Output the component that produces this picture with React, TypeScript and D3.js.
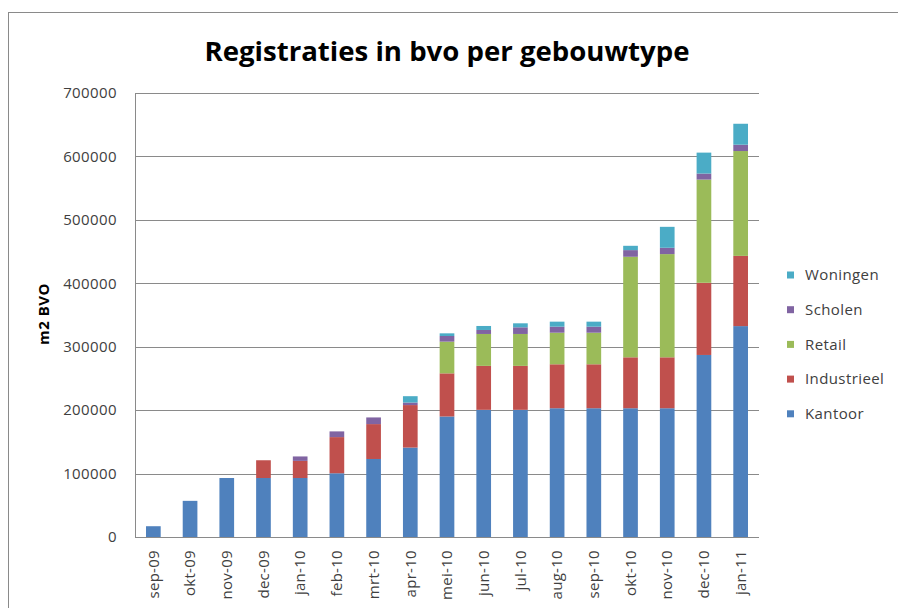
import React from "react";
import * as d3 from "d3";

const categories = ["sep-09","okt-09","nov-09","dec-09","jan-10","feb-10","mrt-10","apr-10","mei-10","jun-10","jul-10","aug-10","sep-10","okt-10","nov-10","dec-10","jan-11"];
const kantoor =    [17000, 57000, 93000, 93000, 93000, 100500, 123000, 141000, 190000, 200500, 200500, 203000, 203000, 203000, 203000, 287000, 332500];
const industrieel = [0, 0, 0, 28000, 27000, 57000, 55000, 67000, 68000, 69300, 69300, 69300, 69300, 80300, 80300, 113800, 110700];
const retail =      [0, 0, 0, 0, 0, 0, 0, 0, 50000, 50300, 50300, 49800, 49800, 158500, 162700, 162700, 165300];
const scholen =     [0, 0, 0, 0, 7000, 9000, 10500, 4000, 8900, 6300, 10500, 9500, 9500, 10500, 10000, 9500, 10000];
const woningen =    [0, 0, 0, 0, 0, 0, 0, 10000, 4200, 6300, 6300, 7900, 7900, 6800, 33000, 33000, 33000];
const yTicks = [0, 100000, 200000, 300000, 400000, 500000, 600000, 700000];

const seriesNames = ["Kantoor", "Industrieel", "Retail", "Scholen", "Woningen"];
const seriesValues = [kantoor, industrieel, retail, scholen, woningen];
const colors = ["#4F81BD", "#C0504D", "#9BBB59", "#8064A2", "#4BACC6"];

const W = 898, H = 608;
const plot = { left: 135, right: 759, top: 93, bottom: 537 };
const font = "'Open Sans', sans-serif";
const textColor = "#404040";
const gridColor = "#8a8a8a";

export default function App() {
  const x = d3.scaleBand<string>().domain(categories).range([plot.left, plot.right]).paddingInner(0.6).paddingOuter(0.3);
  const y = d3.scaleLinear().domain([0, 700000]).range([plot.bottom, plot.top]);

  const rows = categories.map((c, i) => {
    const r: any = { cat: c };
    seriesNames.forEach((s, j) => (r[s] = seriesValues[j][i]));
    return r;
  });
  const stacked = d3.stack<any>().keys(seriesNames)(rows);

  const legendOrder = [4, 3, 2, 1, 0];
  const legendY0 = 275, legendStep = 34.7;

  return (
    <svg width={W} height={H} style={{ position: "absolute", left: 0, top: 0, background: "#fff" }}>
      <rect x={8.5} y={12.5} width={1000} height={700} fill="#fff" stroke="#8a8a8a" strokeWidth={1} />
      <text x={447} y={61} textAnchor="middle" fontFamily={font} fontWeight={700} fontSize={27} fill="#000" textLength={485} lengthAdjust="spacingAndGlyphs">
        Registraties in bvo per gebouwtype
      </text>
      {yTicks.map((t) => (
        <g key={t}>
          <line x1={plot.left} x2={plot.right} y1={Math.round(y(t)) + 0.5} y2={Math.round(y(t)) + 0.5} stroke={gridColor} strokeWidth={1} />
          <text x={117} y={y(t)} dy="0.35em" textAnchor="end" fontFamily={font} fontSize={15} letterSpacing={0.4} fill={textColor}>
            {t}
          </text>
        </g>
      ))}
      <line x1={plot.left + 0.5} x2={plot.left + 0.5} y1={plot.top} y2={plot.bottom} stroke={gridColor} strokeWidth={1} />
      {stacked.map((layer, j) => (
        <g key={seriesNames[j]} fill={colors[j]}>
          {layer.map((d, i) => {
            const h = y(d[0]) - y(d[1]);
            if (h <= 0) return null;
            return <rect key={i} x={x(categories[i])!} width={x.bandwidth()} y={y(d[1])} height={h} />;
          })}
        </g>
      ))}
      <line x1={plot.left} x2={plot.right} y1={plot.bottom + 0.5} y2={plot.bottom + 0.5} stroke={gridColor} strokeWidth={1} />
      {categories.map((c) => (
        <text key={c} transform={`translate(${x(c)! + x.bandwidth() / 2},550) rotate(-90)`} dy="0.35em" textAnchor="end" fontFamily={font} fontSize={15} letterSpacing={0.3} fill={textColor}>
          {c}
        </text>
      ))}
      <text transform={`translate(44,314) rotate(-90)`} dy="0.35em" textAnchor="middle" fontFamily={font} fontWeight={700} fontSize={15} letterSpacing={0.5} fill="#000">
        m2 BVO
      </text>
      {legendOrder.map((j, k) => (
        <g key={seriesNames[j]} transform={`translate(0,${legendY0 + k * legendStep})`}>
          <rect x={787} y={-3.5} width={7} height={7} fill={colors[j]} />
          <text x={805} y={0} dy="0.35em" fontFamily={font} fontSize={15} letterSpacing={0.4} fill={textColor}>
            {seriesNames[j]}
          </text>
        </g>
      ))}
    </svg>
  );
}
